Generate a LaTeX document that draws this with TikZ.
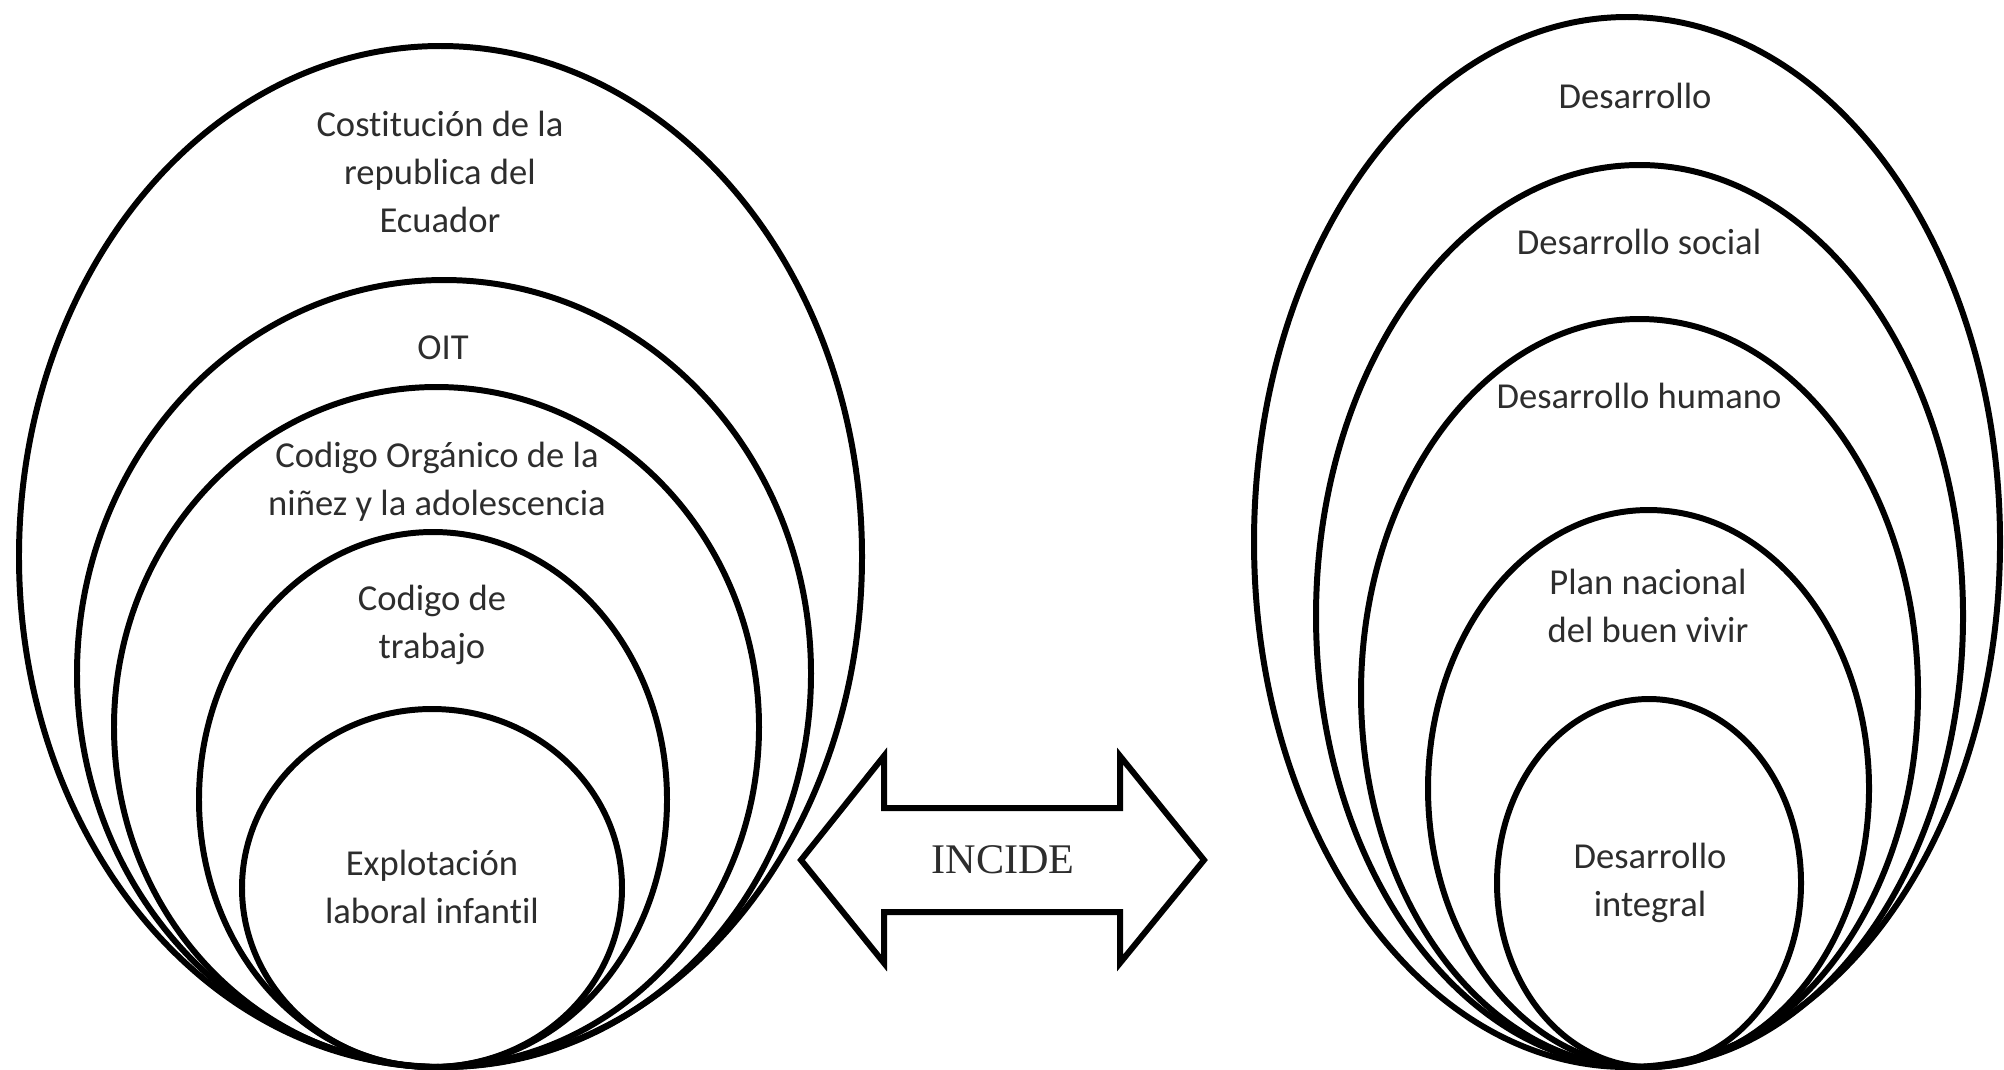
\documentclass[tikz,border=0pt]{standalone}
\usepackage{fontspec}
\setmainfont{Carlito}[Ligatures={NoCommon}]
\newfontfamily\serifface{Liberation Serif}
\usetikzlibrary{shapes.geometric}
\definecolor{mytext}{RGB}{45,45,45}

\begin{document}
\begin{tikzpicture}[x=0.01cm,y=-0.01cm,
  ring/.style={draw,ellipse,line width=1.7pt,inner sep=0pt},
  ringtext/.style={align=center,text=mytext,inner sep=0pt,
    font=\fontsize{10.4}{13.7}\selectfont},
  bigarrow/.style={draw,line width=1.7pt,line join=miter}
]
\useasboundingbox (0,0) rectangle (2004,1069);

% the left rings
\foreach \i/\cx/\cy/\w/\h in {1/440.5/556.5/843/1021, 2/444/673.5/734/787,
    3/436.5/727/645/680, 4/433/799.5/468/535, 5/432/888/380/358}
  \node[ring,minimum width=\w*0.01cm,minimum height=\h*0.01cm] (l\i) at (\cx,\cy) {};

% the right rings
\foreach \i/\cx/\cy/\w/\h in {1/1627/542/746/1050, 2/1639.5/616/647/902,
    3/1639.5/693/557/748, 4/1648.5/788.5/441/557, 5/1649/883/304/368}
  \node[ring,minimum width=\w*0.01cm,minimum height=\h*0.01cm] (r\i) at (\cx,\cy) {};

% left texts
\node[ringtext] (t1) at (440,172) {Costitución de la\\republica del\\Ecuador};
\node[ringtext] (t2) at (443,348) {OIT};
\node[ringtext] (t3) at (437,482) {Codigo Orgánico de la\\niñez y la adolescencia};
\node[ringtext] (t4) at (432,625) {Codigo de\\trabajo};
\node[ringtext] (t5) at (432,887) {Explotación\\laboral infantil};

% right texts
\node[ringtext] (u1) at (1635,96) {Desarrollo};
\node[ringtext] (u2) at (1639,242) {Desarrollo social};
\node[ringtext] (u3) at (1639,396) {Desarrollo humano};
\node[ringtext] (u4) at (1648,606) {Plan nacional\\del buen vivir};
\node[ringtext] (u5) at (1650,883) {Desarrollo\\integral};

% the double arrow
\draw[bigarrow] (801,860) -- (884,756) -- (884,808) -- (1120,808) -- (1120,756)
  -- (1204,860) -- (1120,963) -- (1120,912) -- (884,912) -- (884,963) -- cycle;
\node[text=mytext,font=\serifface\fontsize{12}{14}\selectfont] (incide) at (1003,860) {INCIDE};
\end{tikzpicture}
\end{document}
